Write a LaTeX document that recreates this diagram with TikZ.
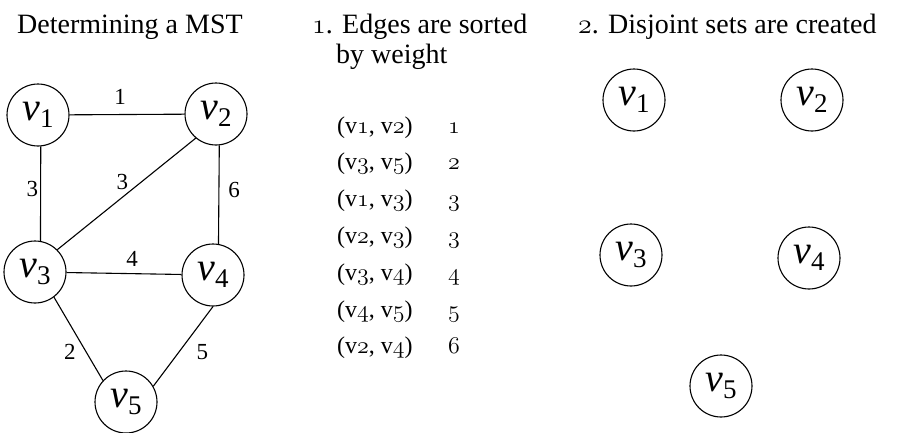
\RequirePackage{fix-cm}
\documentclass[tikz,border=0pt]{standalone}
\usepackage{fontspec}
\setmainfont{Liberation Serif}
\usepackage{tikz}
\newcommand\osn[1]{{\usefont{OML}{cmm}{m}{it}#1}}
\newcommand\vx[1]{\textit{v}\raisebox{-7pt}{\fontsize{27}{27}\selectfont #1}}
\begin{document}
\begin{tikzpicture}[x=1pt,y=-1pt,
  vertex/.style={circle,draw,line width=1.1pt,minimum size=62pt,inner sep=0pt,font=\fontsize{40}{44}\selectfont},
  edge/.style={line width=1.1pt},
  weight/.style={font=\fontsize{23}{26}\selectfont,inner sep=2pt},
  heading/.style={anchor=base west,inner sep=0pt,font=\fontsize{28}{32}\selectfont},
  entry/.style={anchor=base west,inner sep=0pt,font=\fontsize{24}{28}\selectfont}]
\useasboundingbox (0,0) rectangle (900,432);
\node[heading] (title) at (17,33) {Determining a MST};
\node[heading] (sortA) at (312,33) {\osn{1}. Edges are sorted};
\node[heading] (sortB) at (336,63) {by weight};
\node[heading] (sets) at (578,33) {\osn{2}. Disjoint sets are created};
% graph
\node[vertex] (a1) at (38,115) {\vx{1}};
\node[vertex] (a2) at (216,114) {\vx{2}};
\node[vertex] (a3) at (35,272) {\vx{3}};
\node[vertex] (a4) at (213,275) {\vx{4}};
\node[vertex] (a5) at (126,402) {\vx{5}};
\draw[edge] (a1) -- node[weight,above=7pt,pos=0.44] {1} (a2);
\draw[edge] (a1.-85) -- node[weight,left=0pt,pos=0.45] {3} (a3.80);
\draw[edge] (a3.45) -- node[weight,above=5pt,pos=0.47] {3} (a2.230);
\draw[edge] (a2.-84) -- node[weight,right=7pt,pos=0.45] {6} (a4.80);
\draw[edge] (a3) -- node[weight,above=5pt,pos=0.57] {4} (a4);
\draw[edge] (a3.-53) -- node[weight,left=8pt,pos=0.66] {2} (a5.137);
\draw[edge] (a4.south) -- node[weight,right=15pt,pos=0.57] {5} (a5.30);
% sorted edges
\foreach \a/\b/\w [count=\i from 0] in {1/2/1,3/5/2,1/3/3,2/3/3,3/4/4,4/5/5,2/4/6} {
  \node[entry] (e\i) at (337,133+36.8*\i) {(v\osn{\a}, v\osn{\b})};
  \node[entry] (w\i) at (448,133+36.8*\i) {\osn{\w}};
}
% disjoint sets
\node[vertex] (b1) at (634,100) {\vx{1}};
\node[vertex] (b2) at (812,100) {\vx{2}};
\node[vertex] (b3) at (631,255) {\vx{3}};
\node[vertex] (b4) at (809,258) {\vx{4}};
\node[vertex] (b5) at (721,386) {\vx{5}};
\end{tikzpicture}
\end{document}
